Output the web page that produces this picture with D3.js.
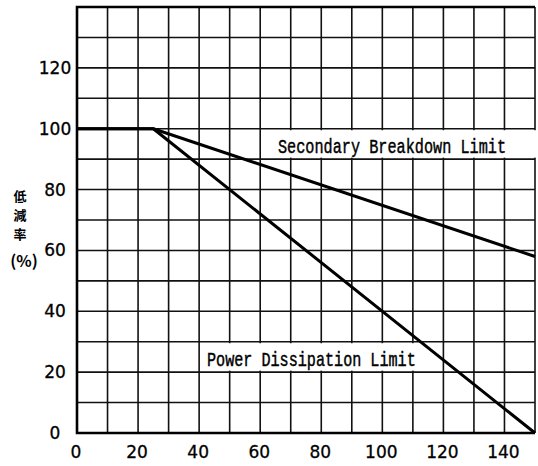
<!DOCTYPE html>
<html>
<head>
<meta charset="utf-8">
<script src="https://cdn.jsdelivr.net/npm/d3@7"></script>
<style>
  body { margin: 0; background: #fff; }
  svg { display: block; }
</style>
</head>
<body>
<div id="chart"></div>
<script>
// Data
var xTicks = [0, 20, 40, 60, 80, 100, 120, 140];
var yTicks = [0, 20, 40, 60, 80, 100, 120];
var gridX = d3.range(0, 151, 10);
var gridY = d3.range(0, 141, 10);

// Secondary breakdown limit curve
var sbX = [0, 25, 150];
var sbY = [100, 100, 58];
// Power dissipation limit curve
var pdX = [0, 25, 150];
var pdY = [100, 100, 0];

var labels = ["Secondary Breakdown Limit", "Power Dissipation Limit"];
var yTitle = ["低", "減", "率", "(%)"];

var width = 538, height = 466;

var x = d3.scaleLinear().domain([0, 150]).range([77, 535]);
var y = d3.scaleLinear().domain([0, 140]).range([433, 7]);

var svg = d3.select("#chart").append("svg")
    .attr("width", width)
    .attr("height", height);

// grid lines
svg.append("g").selectAll("line").data(gridX).join("line")
    .attr("x1", d => x(d)).attr("x2", d => x(d))
    .attr("y1", y(0)).attr("y2", y(140))
    .attr("stroke", "#111").attr("stroke-width", 1.6);

svg.append("g").selectAll("line").data(gridY).join("line")
    .attr("x1", x(0)).attr("x2", x(150))
    .attr("y1", d => y(d)).attr("y2", d => y(d))
    .attr("stroke", "#111").attr("stroke-width", 1.6);

// frame: left, top, bottom
svg.append("path")
    .attr("d", `M${x(150)},${y(140)}H${x(0)}V${y(0)}H${x(150)}`)
    .attr("fill", "none").attr("stroke", "#000").attr("stroke-width", 2.6);

// white boxes behind the curve labels
svg.append("rect")
    .attr("x", x(60) + 1.5).attr("y", y(100) + 1.5)
    .attr("width", x(150) - x(60) + 5).attr("height", y(90) - y(100) - 3)
    .attr("fill", "#fff");
svg.append("rect")
    .attr("x", x(40) + 1.5).attr("y", y(30) + 1.5)
    .attr("width", x(120) - x(40) - 3).attr("height", y(20) - y(30) - 3)
    .attr("fill", "#fff");

// curves
var line = d3.line().x(d => x(d[0])).y(d => y(d[1]));
svg.append("path")
    .datum(pdX.map((v, i) => [v, pdY[i]]))
    .attr("d", line)
    .attr("fill", "none").attr("stroke", "#000").attr("stroke-width", 3)
    .attr("stroke-linejoin", "round");
svg.append("path")
    .datum(sbX.map((v, i) => [v, sbY[i]]))
    .attr("d", line)
    .attr("fill", "none").attr("stroke", "#000").attr("stroke-width", 3)
    .attr("stroke-linejoin", "round");

// curve labels (tall, condensed typewriter look) - squeezed horizontally
svg.append("text")
    .attr("transform", "translate(278,153) scale(0.724,1)")
    .style("font-family", "'Liberation Mono', 'DejaVu Sans Mono', monospace")
    .style("font-size", "21px")
    .attr("fill", "#000").attr("stroke", "#000").attr("stroke-width", 0.45)
    .text(labels[0]);
svg.append("text")
    .attr("transform", "translate(207,366) scale(0.757,1)")
    .style("font-family", "'Liberation Mono', 'DejaVu Sans Mono', monospace")
    .style("font-size", "20px")
    .attr("fill", "#000").attr("stroke", "#000").attr("stroke-width", 0.45)
    .text(labels[1]);

// tick labels
svg.append("g").selectAll("text").data(yTicks).join("text")
    .attr("x", 55).attr("y", d => y(d) + 6)
    .attr("text-anchor", "middle")
    .style("font-family", "'DejaVu Sans', sans-serif")
    .style("font-size", "17px")
    .attr("fill", "#000").attr("stroke", "#000").attr("stroke-width", 0.3)
    .text(d => d);

svg.append("g").selectAll("text").data(xTicks).join("text")
    .attr("x", d => x(d) - 1).attr("y", 458)
    .attr("text-anchor", "middle")
    .style("font-family", "'DejaVu Sans', sans-serif")
    .style("font-size", "17px")
    .attr("fill", "#000").attr("stroke", "#000").attr("stroke-width", 0.3)
    .text(d => d);

// y-axis title, stacked characters
var titleY = [201, 220, 239, 267];
svg.append("g").selectAll("text").data(yTitle).join("text")
    .attr("x", (d, i) => i < 3 ? 20 : 24)
    .attr("y", (d, i) => titleY[i])
    .attr("text-anchor", "middle")
    .style("font-family", "'Noto Sans CJK JP', sans-serif")
    .style("font-size", (d, i) => i < 3 ? "13px" : "16px")
    .style("font-weight", 700)
    .attr("fill", "#000")
    .text(d => d);
</script>
</body>
</html>
